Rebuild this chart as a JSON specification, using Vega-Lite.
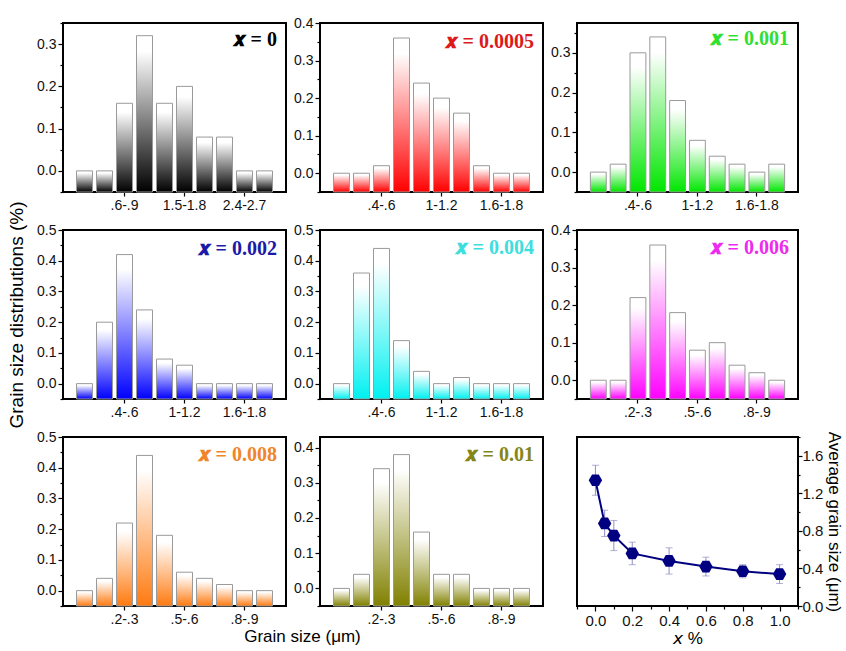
{
  "$schema": "https://vega.github.io/schema/vega-lite/v6.json",
  "padding": {"left": 6, "top": 15, "right": 0, "bottom": 0},
  "background": "white",
  "datasets": {
    "hist": [
      {"x": "0", "bin": "0-.3", "v": 0}, {"x": "0", "bin": ".3-.6", "v": 0}, {"x": "0", "bin": ".6-.9", "v": 0.16}, {"x": "0", "bin": ".9-1.2", "v": 0.32}, {"x": "0", "bin": "1.2-1.5", "v": 0.16}, {"x": "0", "bin": "1.5-1.8", "v": 0.20}, {"x": "0", "bin": "1.8-2.1", "v": 0.08}, {"x": "0", "bin": "2.1-2.4", "v": 0.08}, {"x": "0", "bin": "2.4-2.7", "v": 0}, {"x": "0", "bin": "2.7-3", "v": 0},
      {"x": "0.0005", "bin": "0-.2", "v": 0}, {"x": "0.0005", "bin": ".2-.4", "v": 0}, {"x": "0.0005", "bin": ".4-.6", "v": 0.02}, {"x": "0.0005", "bin": ".6-.8", "v": 0.36}, {"x": "0.0005", "bin": ".8-1", "v": 0.24}, {"x": "0.0005", "bin": "1-1.2", "v": 0.20}, {"x": "0.0005", "bin": "1.2-1.4", "v": 0.16}, {"x": "0.0005", "bin": "1.4-1.6", "v": 0.02}, {"x": "0.0005", "bin": "1.6-1.8", "v": 0}, {"x": "0.0005", "bin": "1.8-2", "v": 0},
      {"x": "0.001", "bin": "0-.2", "v": 0}, {"x": "0.001", "bin": ".2-.4", "v": 0.02}, {"x": "0.001", "bin": ".4-.6", "v": 0.30}, {"x": "0.001", "bin": ".6-.8", "v": 0.34}, {"x": "0.001", "bin": ".8-1", "v": 0.18}, {"x": "0.001", "bin": "1-1.2", "v": 0.08}, {"x": "0.001", "bin": "1.2-1.4", "v": 0.04}, {"x": "0.001", "bin": "1.4-1.6", "v": 0.02}, {"x": "0.001", "bin": "1.6-1.8", "v": 0}, {"x": "0.001", "bin": "1.8-2", "v": 0.02},
      {"x": "0.002", "bin": "0-.2", "v": 0}, {"x": "0.002", "bin": ".2-.4", "v": 0.20}, {"x": "0.002", "bin": ".4-.6", "v": 0.42}, {"x": "0.002", "bin": ".6-.8", "v": 0.24}, {"x": "0.002", "bin": ".8-1", "v": 0.08}, {"x": "0.002", "bin": "1-1.2", "v": 0.06}, {"x": "0.002", "bin": "1.2-1.4", "v": 0}, {"x": "0.002", "bin": "1.4-1.6", "v": 0}, {"x": "0.002", "bin": "1.6-1.8", "v": 0}, {"x": "0.002", "bin": "1.8-2", "v": 0},
      {"x": "0.004", "bin": "0-.2", "v": 0}, {"x": "0.004", "bin": ".2-.4", "v": 0.36}, {"x": "0.004", "bin": ".4-.6", "v": 0.44}, {"x": "0.004", "bin": ".6-.8", "v": 0.14}, {"x": "0.004", "bin": ".8-1", "v": 0.04}, {"x": "0.004", "bin": "1-1.2", "v": 0}, {"x": "0.004", "bin": "1.2-1.4", "v": 0.02}, {"x": "0.004", "bin": "1.4-1.6", "v": 0}, {"x": "0.004", "bin": "1.6-1.8", "v": 0}, {"x": "0.004", "bin": "1.8-2", "v": 0},
      {"x": "0.006", "bin": "0-.1", "v": 0}, {"x": "0.006", "bin": ".1-.2", "v": 0}, {"x": "0.006", "bin": ".2-.3", "v": 0.22}, {"x": "0.006", "bin": ".3-.4", "v": 0.36}, {"x": "0.006", "bin": ".4-.5", "v": 0.18}, {"x": "0.006", "bin": ".5-.6", "v": 0.08}, {"x": "0.006", "bin": ".6-.7", "v": 0.10}, {"x": "0.006", "bin": ".7-.8", "v": 0.04}, {"x": "0.006", "bin": ".8-.9", "v": 0.02}, {"x": "0.006", "bin": ".9-1", "v": 0},
      {"x": "0.008", "bin": "0-.1", "v": 0}, {"x": "0.008", "bin": ".1-.2", "v": 0.04}, {"x": "0.008", "bin": ".2-.3", "v": 0.22}, {"x": "0.008", "bin": ".3-.4", "v": 0.44}, {"x": "0.008", "bin": ".4-.5", "v": 0.18}, {"x": "0.008", "bin": ".5-.6", "v": 0.06}, {"x": "0.008", "bin": ".6-.7", "v": 0.04}, {"x": "0.008", "bin": ".7-.8", "v": 0.02}, {"x": "0.008", "bin": ".8-.9", "v": 0}, {"x": "0.008", "bin": ".9-1", "v": 0},
      {"x": "0.01", "bin": "0-.1", "v": 0}, {"x": "0.01", "bin": ".1-.2", "v": 0.04}, {"x": "0.01", "bin": ".2-.3", "v": 0.34}, {"x": "0.01", "bin": ".3-.4", "v": 0.38}, {"x": "0.01", "bin": ".4-.5", "v": 0.16}, {"x": "0.01", "bin": ".5-.6", "v": 0.04}, {"x": "0.01", "bin": ".6-.7", "v": 0.04}, {"x": "0.01", "bin": ".7-.8", "v": 0}, {"x": "0.01", "bin": ".8-.9", "v": 0}, {"x": "0.01", "bin": ".9-1", "v": 0}
    ],
    "avg": [
      {"pct": 0, "avg": 1.34, "err": 0.16},
      {"pct": 0.05, "avg": 0.88, "err": 0.14},
      {"pct": 0.1, "avg": 0.75, "err": 0.16},
      {"pct": 0.2, "avg": 0.56, "err": 0.12},
      {"pct": 0.4, "avg": 0.48, "err": 0.14},
      {"pct": 0.6, "avg": 0.42, "err": 0.10},
      {"pct": 0.8, "avg": 0.37, "err": 0.07},
      {"pct": 1.0, "avg": 0.34, "err": 0.10}
    ]
  },
  "columns": 3,
  "bounds": "flush",
  "spacing": {"row": 38, "column": 34},
  "concat": [
    {
      "width": 223, "height": 169,
      "data": {"name": "hist"},
      "transform": [{"filter": "datum.x === '0'"}],
      "title": {"text": "𝒙 = 0", "color": "#000000", "offset": -28},
      "mark": {"type": "bar", "width": {"band": 0.8}, "stroke": "#9a9a9a", "strokeWidth": 1, "fill": {"gradient": "linear", "x1": 0, "y1": 0, "x2": 0, "y2": 1, "stops": [{"offset": 0, "color": "#ffffff"}, {"offset": 0.1, "color": "#ffffff"}, {"offset": 1, "color": "#000000"}]}},
      "encoding": {
        "x": {"field": "bin", "type": "ordinal", "sort": null, "scale": {"paddingInner": 0, "paddingOuter": 0.575}, "axis": {"values": [".6-.9", "1.5-1.8", "2.4-2.7"], "title": null, "labelAngle": 0}},
        "y": {"field": "v", "type": "quantitative", "scale": {"domain": [-0.05, 0.35], "nice": false, "zero": false}, "axis": {"title": null, "values": [-0.05, 0, 0.05, 0.1, 0.15, 0.2, 0.25, 0.3, 0.35], "labelExpr": "abs(datum.value*10-round(datum.value*10))<0.001 ? format(datum.value,'.1f') : ''", "tickSize": {"condition": {"test": "abs(datum.value*10-round(datum.value*10))<0.001", "value": 5}, "value": 3}}},
        "y2": {"datum": -0.05}
      }
    },
    {
      "width": 223, "height": 169,
      "data": {"name": "hist"},
      "transform": [{"filter": "datum.x === '0.0005'"}],
      "title": {"text": "𝒙 = 0.0005", "color": "#dd1a1a", "offset": -36},
      "mark": {"type": "bar", "width": {"band": 0.8}, "stroke": "#9a9a9a", "strokeWidth": 1, "fill": {"gradient": "linear", "x1": 0, "y1": 0, "x2": 0, "y2": 1, "stops": [{"offset": 0, "color": "#ffffff"}, {"offset": 0.1, "color": "#ffffff"}, {"offset": 1, "color": "#ff0000"}]}},
      "encoding": {
        "x": {"field": "bin", "type": "ordinal", "sort": null, "scale": {"paddingInner": 0, "paddingOuter": 0.575}, "axis": {"values": [".4-.6", "1-1.2", "1.6-1.8"], "title": null, "labelAngle": 0}},
        "y": {"field": "v", "type": "quantitative", "scale": {"domain": [-0.05, 0.4], "nice": false, "zero": false}, "axis": {"title": null, "values": [-0.05, 0, 0.05, 0.1, 0.15, 0.2, 0.25, 0.3, 0.35, 0.4], "labelExpr": "abs(datum.value*10-round(datum.value*10))<0.001 ? format(datum.value,'.1f') : ''", "tickSize": {"condition": {"test": "abs(datum.value*10-round(datum.value*10))<0.001", "value": 5}, "value": 3}}},
        "y2": {"datum": -0.05}
      }
    },
    {
      "width": 221, "height": 169,
      "data": {"name": "hist"},
      "transform": [{"filter": "datum.x === '0.001'"}],
      "title": {"text": "𝒙 = 0.001", "color": "#2fe02f", "offset": -26},
      "mark": {"type": "bar", "width": {"band": 0.8}, "stroke": "#9a9a9a", "strokeWidth": 1, "fill": {"gradient": "linear", "x1": 0, "y1": 0, "x2": 0, "y2": 1, "stops": [{"offset": 0, "color": "#ffffff"}, {"offset": 0.1, "color": "#ffffff"}, {"offset": 1, "color": "#00e600"}]}},
      "encoding": {
        "x": {"field": "bin", "type": "ordinal", "sort": null, "scale": {"paddingInner": 0, "paddingOuter": 0.575}, "axis": {"values": [".4-.6", "1-1.2", "1.6-1.8"], "title": null, "labelAngle": 0}},
        "y": {"field": "v", "type": "quantitative", "scale": {"domain": [-0.05, 0.375], "nice": false, "zero": false}, "axis": {"title": null, "values": [-0.05, 0, 0.05, 0.1, 0.15, 0.2, 0.25, 0.3, 0.35], "labelExpr": "abs(datum.value*10-round(datum.value*10))<0.001 ? format(datum.value,'.1f') : ''", "tickSize": {"condition": {"test": "abs(datum.value*10-round(datum.value*10))<0.001", "value": 5}, "value": 3}}},
        "y2": {"datum": -0.05}
      }
    },
    {
      "width": 223, "height": 169,
      "data": {"name": "hist"},
      "transform": [{"filter": "datum.x === '0.002'"}],
      "title": {"text": "𝒙 = 0.002", "color": "#1a1aa8", "offset": -58},
      "mark": {"type": "bar", "width": {"band": 0.8}, "stroke": "#9a9a9a", "strokeWidth": 1, "fill": {"gradient": "linear", "x1": 0, "y1": 0, "x2": 0, "y2": 1, "stops": [{"offset": 0, "color": "#ffffff"}, {"offset": 0.1, "color": "#ffffff"}, {"offset": 1, "color": "#0000ff"}]}},
      "encoding": {
        "x": {"field": "bin", "type": "ordinal", "sort": null, "scale": {"paddingInner": 0, "paddingOuter": 0.575}, "axis": {"values": [".4-.6", "1-1.2", "1.6-1.8"], "title": null, "labelAngle": 0}},
        "y": {"field": "v", "type": "quantitative", "scale": {"domain": [-0.05, 0.5], "nice": false, "zero": false}, "axis": {"title": "Grain size distributions (%)", "titleFontSize": 19, "titlePadding": 10, "values": [-0.05, 0, 0.05, 0.1, 0.15, 0.2, 0.25, 0.3, 0.35, 0.4, 0.45, 0.5], "labelExpr": "abs(datum.value*10-round(datum.value*10))<0.001 ? format(datum.value,'.1f') : ''", "tickSize": {"condition": {"test": "abs(datum.value*10-round(datum.value*10))<0.001", "value": 5}, "value": 3}}},
        "y2": {"datum": -0.05}
      }
    },
    {
      "width": 223, "height": 169,
      "data": {"name": "hist"},
      "transform": [{"filter": "datum.x === '0.004'"}],
      "title": {"text": "𝒙 = 0.004", "color": "#3ddede", "offset": -35},
      "mark": {"type": "bar", "width": {"band": 0.8}, "stroke": "#9a9a9a", "strokeWidth": 1, "fill": {"gradient": "linear", "x1": 0, "y1": 0, "x2": 0, "y2": 1, "stops": [{"offset": 0, "color": "#ffffff"}, {"offset": 0.1, "color": "#ffffff"}, {"offset": 1, "color": "#00f0f0"}]}},
      "encoding": {
        "x": {"field": "bin", "type": "ordinal", "sort": null, "scale": {"paddingInner": 0, "paddingOuter": 0.575}, "axis": {"values": [".4-.6", "1-1.2", "1.6-1.8"], "title": null, "labelAngle": 0}},
        "y": {"field": "v", "type": "quantitative", "scale": {"domain": [-0.05, 0.5], "nice": false, "zero": false}, "axis": {"title": null, "values": [-0.05, 0, 0.05, 0.1, 0.15, 0.2, 0.25, 0.3, 0.35, 0.4, 0.45, 0.5], "labelExpr": "abs(datum.value*10-round(datum.value*10))<0.001 ? format(datum.value,'.1f') : ''", "tickSize": {"condition": {"test": "abs(datum.value*10-round(datum.value*10))<0.001", "value": 5}, "value": 3}}},
        "y2": {"datum": -0.05}
      }
    },
    {
      "width": 221, "height": 169,
      "data": {"name": "hist"},
      "transform": [{"filter": "datum.x === '0.006'"}],
      "title": {"text": "𝒙 = 0.006", "color": "#ee2aee", "offset": -35},
      "mark": {"type": "bar", "width": {"band": 0.8}, "stroke": "#9a9a9a", "strokeWidth": 1, "fill": {"gradient": "linear", "x1": 0, "y1": 0, "x2": 0, "y2": 1, "stops": [{"offset": 0, "color": "#ffffff"}, {"offset": 0.1, "color": "#ffffff"}, {"offset": 1, "color": "#ff00ff"}]}},
      "encoding": {
        "x": {"field": "bin", "type": "ordinal", "sort": null, "scale": {"paddingInner": 0, "paddingOuter": 0.575}, "axis": {"values": [".2-.3", ".5-.6", ".8-.9"], "title": null, "labelAngle": 0}},
        "y": {"field": "v", "type": "quantitative", "scale": {"domain": [-0.05, 0.4], "nice": false, "zero": false}, "axis": {"title": null, "values": [-0.05, 0, 0.05, 0.1, 0.15, 0.2, 0.25, 0.3, 0.35, 0.4], "labelExpr": "abs(datum.value*10-round(datum.value*10))<0.001 ? format(datum.value,'.1f') : ''", "tickSize": {"condition": {"test": "abs(datum.value*10-round(datum.value*10))<0.001", "value": 5}, "value": 3}}},
        "y2": {"datum": -0.05}
      }
    },
    {
      "width": 223, "height": 169,
      "data": {"name": "hist"},
      "transform": [{"filter": "datum.x === '0.008'"}],
      "title": {"text": "𝒙 = 0.008", "color": "#f0852a", "offset": -35},
      "mark": {"type": "bar", "width": {"band": 0.8}, "stroke": "#9a9a9a", "strokeWidth": 1, "fill": {"gradient": "linear", "x1": 0, "y1": 0, "x2": 0, "y2": 1, "stops": [{"offset": 0, "color": "#ffffff"}, {"offset": 0.1, "color": "#ffffff"}, {"offset": 1, "color": "#ff7a10"}]}},
      "encoding": {
        "x": {"field": "bin", "type": "ordinal", "sort": null, "scale": {"paddingInner": 0, "paddingOuter": 0.575}, "axis": {"values": [".2-.3", ".5-.6", ".8-.9"], "title": "Grain size (μm)", "titleFontSize": 17, "titleX": 239, "titleAlign": "center", "titlePadding": 2, "labelAngle": 0}},
        "y": {"field": "v", "type": "quantitative", "scale": {"domain": [-0.05, 0.5], "nice": false, "zero": false}, "axis": {"title": null, "values": [-0.05, 0, 0.05, 0.1, 0.15, 0.2, 0.25, 0.3, 0.35, 0.4, 0.45, 0.5], "labelExpr": "abs(datum.value*10-round(datum.value*10))<0.001 ? format(datum.value,'.1f') : ''", "tickSize": {"condition": {"test": "abs(datum.value*10-round(datum.value*10))<0.001", "value": 5}, "value": 3}}},
        "y2": {"datum": -0.05}
      }
    },
    {
      "width": 223, "height": 169,
      "data": {"name": "hist"},
      "transform": [{"filter": "datum.x === '0.01'"}],
      "title": {"text": "𝒙 = 0.01", "color": "#868618", "offset": -28},
      "mark": {"type": "bar", "width": {"band": 0.8}, "stroke": "#9a9a9a", "strokeWidth": 1, "fill": {"gradient": "linear", "x1": 0, "y1": 0, "x2": 0, "y2": 1, "stops": [{"offset": 0, "color": "#ffffff"}, {"offset": 0.1, "color": "#ffffff"}, {"offset": 1, "color": "#808000"}]}},
      "encoding": {
        "x": {"field": "bin", "type": "ordinal", "sort": null, "scale": {"paddingInner": 0, "paddingOuter": 0.575}, "axis": {"values": [".2-.3", ".5-.6", ".8-.9"], "title": null, "labelAngle": 0}},
        "y": {"field": "v", "type": "quantitative", "scale": {"domain": [-0.05, 0.43], "nice": false, "zero": false}, "axis": {"title": null, "values": [-0.05, 0, 0.05, 0.1, 0.15, 0.2, 0.25, 0.3, 0.35, 0.4], "labelExpr": "abs(datum.value*10-round(datum.value*10))<0.001 ? format(datum.value,'.1f') : ''", "tickSize": {"condition": {"test": "abs(datum.value*10-round(datum.value*10))<0.001", "value": 5}, "value": 3}}},
        "y2": {"datum": -0.05}
      }
    },
    {
      "width": 221, "height": 169,
      "data": {"name": "avg"},
      "encoding": {
        "x": {"field": "pct", "type": "quantitative", "scale": {"domain": [-0.1, 1.1], "nice": false, "zero": false}, "axis": {"title": "𝘹 %", "titleFontSize": 17, "titlePadding": 2, "labelFontSize": 15, "labelFlush": false, "values": [-0.1, 0, 0.1, 0.2, 0.3, 0.4, 0.5, 0.6, 0.7, 0.8, 0.9, 1, 1.1], "labelExpr": "abs(datum.value*5-round(datum.value*5))<0.001 ? format(datum.value,'.1f') : ''", "tickSize": {"condition": {"test": "abs(datum.value*5-round(datum.value*5))<0.001", "value": 5}, "value": 3}}},
        "y": {"field": "avg", "type": "quantitative", "scale": {"domain": [0, 1.8], "nice": false}, "axis": {"orient": "right", "title": "Average grain size (μm)", "titleFontSize": 17, "titlePadding": 2, "labelFontSize": 15, "labelPadding": 0, "labelFlush": false, "values": [0, 0.2, 0.4, 0.6, 0.8, 1, 1.2, 1.4, 1.6, 1.8], "labelExpr": "abs(datum.value*2.5-round(datum.value*2.5))<0.001 ? format(datum.value,'.1f') : ''", "tickSize": {"condition": {"test": "abs(datum.value*2.5-round(datum.value*2.5))<0.001", "value": 4}, "value": 2}}}
      },
      "layer": [
        {"mark": {"type": "errorbar", "color": "#8e8ec6", "ticks": {"size": 7}}, "encoding": {"yError": {"field": "err"}}},
        {"mark": {"type": "line", "color": "#000080", "strokeWidth": 2}},
        {"mark": {"type": "point", "shape": "M-1,0L-0.5,-0.866L0.5,-0.866L1,0L0.5,0.866L-0.5,0.866Z", "filled": true, "color": "#000080", "size": 180, "opacity": 1}}
      ]
    }
  ],
  "config": {
    "view": {"stroke": "#000000", "strokeWidth": 2},
    "axis": {"domain": false, "grid": false, "labelFont": "Liberation Sans", "labelFontSize": 14, "labelColor": "#111111", "labelPadding": 2, "tickColor": "#000000", "tickWidth": 1.2, "tickSize": 4, "titleFont": "Liberation Sans", "titleFontWeight": "normal", "titleColor": "#000000"},
    "title": {"font": "Liberation Serif, DejaVu Serif", "fontSize": 20, "fontWeight": "bold", "anchor": "end", "frame": "group", "orient": "top", "baseline": "alphabetic", "dx": -9}
  }
}
